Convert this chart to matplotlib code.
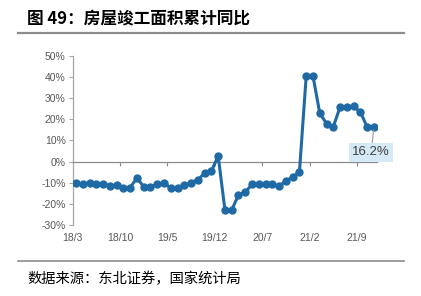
import matplotlib
matplotlib.use("Agg")
import matplotlib.pyplot as plt
from matplotlib.lines import Line2D

plt.rcParams['font.family'] = ['Liberation Sans', 'Noto Sans CJK SC', 'DejaVu Sans']

# ---- data ----
months = []
for y in (2018, 2019, 2020, 2021):
    for m in range(1, 13):
        if (y == 2018 and m < 3) or (y == 2021 and m > 11):
            continue
        months.append(f"{y % 100}/{m}")

values = [
    -10.1, -10.8, -10.0, -10.5, -10.5, -11.6, -11.1, -12.7, -12.3, -7.8,      # 2018/3-12
    -11.9, -11.9, -10.8, -10.3, -12.4, -12.7, -11.3, -10.0, -8.6, -5.5, -4.5, 2.6,  # 2019
    -22.9, -22.9, -15.8, -14.5, -10.8, -10.5, -10.8, -10.8, -11.6, -9.2, -7.3, -4.9,  # 2020
    40.4, 40.4, 22.9, 17.9, 16.4, 25.7, 25.7, 26.0, 23.4, 16.3, 16.2,        # 2021/1-11
]
tick_labels = ["18/3", "18/10", "19/5", "19/12", "20/7", "21/2", "21/9"]
y_ticks = [-30, -20, -10, 0, 10, 20, 30, 40, 50]
title = "图 49：房屋竣工面积累计同比"
source = "数据来源：东北证券，国家统计局"

# ---- figure ----
fig = plt.figure(figsize=(4.21, 2.96), dpi=100)
ax = fig.add_axes([72.6 / 421, 1 - 225 / 296, (377.3 - 72.6) / 421, (225 - 55.7) / 296])

x = list(range(len(values)))
blue = '#1f6aa5'
ax.plot(x, values, color=blue, lw=2.2, marker='o', ms=5, zorder=3)

ax.set_xlim(-0.5, len(values) - 0.5)
ax.set_ylim(-30, 50)

gray_txt = '#595959'
axis_gray = '#a6a6a6'

for s in ('top', 'right'):
    ax.spines[s].set_visible(False)
ax.spines['left'].set_color(axis_gray)
ax.spines['left'].set_linewidth(0.9)
ax.spines['bottom'].set_position(('data', 0))
ax.spines['bottom'].set_color('#8c8c8c')
ax.spines['bottom'].set_linewidth(0.9)

ax.set_yticks(y_ticks)
ax.set_yticklabels([f"{v}%" for v in y_ticks])
ax.tick_params(axis='y', direction='out', length=3, width=0.8, color=axis_gray,
               labelsize=7.5, labelcolor=gray_txt, pad=2)

tick_pos = [months.index(lbl) - 0.5 for lbl in tick_labels]
ax.set_xticks(tick_pos[1:])
ax.tick_params(axis='x', direction='out', length=3, width=0.8, color='#8c8c8c',
               labelbottom=False)

sec = ax.secondary_xaxis(0)
sec.set_xticks(tick_pos)
sec.set_xticklabels(tick_labels)
sec.spines['bottom'].set_visible(False)
sec.tick_params(axis='x', length=0, labelsize=7.5, labelcolor=gray_txt, pad=6)

# annotation of last value
ax.annotate(f"{values[-1]}%", xy=(x[-1], values[-1]), xytext=(-2, -18),
            textcoords='offset points', ha='center', va='center',
            fontsize=9.5, color='#404040',
            bbox=dict(boxstyle='square,pad=0.25', fc='#d6e9f6', ec='none'),
            arrowprops=dict(arrowstyle='-', color='#a0a0a0', lw=0.8,
                            shrinkA=0, shrinkB=2), zorder=4)

# title & source
fig.text(27 / 421, 1 - 18 / 296, title, fontsize=12, fontweight='bold',
         family=['Noto Sans CJK SC', 'DejaVu Sans'], ha='left', va='center', color='black')
fig.add_artist(Line2D([18 / 421, 404 / 421], [1 - 33 / 296, 1 - 33 / 296],
                      color='#8c8c8c', lw=1.6))
fig.add_artist(Line2D([18 / 421, 404 / 421], [1 - 261 / 296, 1 - 261 / 296],
                      color='#8c8c8c', lw=1.2))
fig.text(27 / 421, 1 - 279 / 296, source, fontsize=10.3,
         family=['Noto Sans CJK SC', 'DejaVu Sans'], ha='left', va='center', color='black')

fig.savefig('out.png', dpi=100)
